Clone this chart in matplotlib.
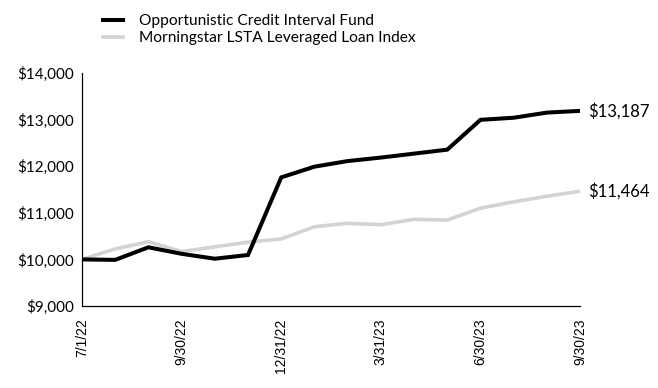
import matplotlib
matplotlib.use("Agg")
import matplotlib.pyplot as plt
from matplotlib.ticker import FuncFormatter

dates = ["7/1/22", "7/31/22", "8/31/22", "9/30/22", "10/31/22", "11/30/22",
         "12/31/22", "1/31/23", "2/28/23", "3/31/23", "4/30/23", "5/31/23",
         "6/30/23", "7/31/23", "8/31/23", "9/30/23"]
fund = [10000, 9990, 10260, 10120, 10015, 10095, 11760, 11990, 12110, 12185,
        12270, 12355, 12995, 13040, 13150, 13187]
index = [10000, 10225, 10380, 10170, 10270, 10370, 10440, 10700, 10775, 10745,
         10860, 10845, 11100, 11235, 11355, 11464]
tick_labels = ["7/1/22", "9/30/22", "12/31/22", "3/31/23", "6/30/23", "9/30/23"]
fund_name = "Opportunistic Credit Interval Fund"
index_name = "Morningstar LSTA Leveraged Loan Index"

fig = plt.figure(figsize=(6.58, 3.88), dpi=100)
ax = fig.add_axes([0.1246, 0.2113, 0.757, 0.6006])

x = list(range(len(dates)))
l2, = ax.plot(x, index, color="#d3d3d3", lw=2.6, solid_joinstyle="miter", label=index_name)
l1, = ax.plot(x, fund, color="#000000", lw=2.9, solid_joinstyle="miter", label=fund_name)

ax.set_xlim(0, len(dates) - 1)
ax.set_ylim(9000, 14000)
ax.set_yticks([9000, 10000, 11000, 12000, 13000, 14000])
ax.yaxis.set_major_formatter(FuncFormatter(lambda v, p: "${:,.0f}".format(v)))
ax.set_xticks([dates.index(t) for t in tick_labels])
ax.set_xticklabels(tick_labels, rotation=90, fontfamily="Liberation Sans", fontsize=10)
for lab in ax.get_yticklabels():
    lab.set_fontfamily("Lato")
    lab.set_fontsize(11)
ax.tick_params(axis="both", length=0, pad=6)
ax.tick_params(axis="x", pad=9)
for s in ["top", "right"]:
    ax.spines[s].set_visible(False)
for s in ["left", "bottom"]:
    ax.spines[s].set_linewidth(0.9)
    ax.spines[s].set_color("#000000")

ax.annotate("${:,.0f}".format(fund[-1]), xy=(x[-1], fund[-1]), xytext=(6, 0),
            textcoords="offset points", va="center", ha="left",
            fontfamily="Lato", fontsize=12, annotation_clip=False)
ax.annotate("${:,.0f}".format(index[-1]), xy=(x[-1], index[-1]), xytext=(6, 0),
            textcoords="offset points", va="center", ha="left",
            fontfamily="Lato", fontsize=12, annotation_clip=False)

fig.legend(handles=[l1, l2], loc="upper left", bbox_to_anchor=(0.135, 1.0),
           frameon=False, prop={"family": "Lato", "size": 11.2},
           handlelength=1.3, handletextpad=1.05, labelspacing=0.2)

fig.savefig("out.png", dpi=100)
